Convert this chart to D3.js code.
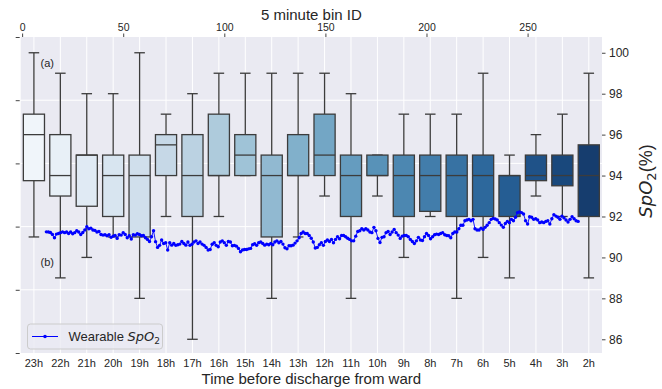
<!DOCTYPE html>
<html><head><meta charset="utf-8">
<script src="https://cdn.jsdelivr.net/npm/d3@7"></script>
<style>body{margin:0;background:#fff}svg{display:block}</style>
</head><body>
<svg id="c" width="662" height="389"></svg>
<script>
// ---------- data ----------
const hours = ["23h","22h","21h","20h","19h","18h","17h","16h","15h","14h","13h","12h","11h","10h","9h","8h","7h","6h","5h","4h","3h","2h"];
const whiskerLow  = [91, 89, 90, 91, 88, 92, 86, 92, 94, 88, 91, 93, 88, 93, 90, 92, 88, 90, 89, 93, 92, 89];
const quartile1   = [93.75, 93, 92.5, 92, 91, 94, 92, 94, 94, 91, 94, 94, 92, 94, 92, 92.25, 92, 92, 92, 93.75, 93.5, 92];
const medians     = [96, 94, 95, 94, 94, 95.5, 94, 94, 95, 94, 94, 95, 94, 94, 94, 94, 94, 94, 94, 94, 94, 94];
const quartile3   = [97, 96, 95, 95, 95, 96, 96, 97, 96, 95, 96, 97, 95, 95, 95, 95, 95, 95, 94, 95, 95, 95.5];
const whiskerHigh = [100, 99, 98, 98, 100, 97, 98, 99, 99, 99, 99, 99, 98, 95, 97, 97, 97, 99, 95, 96, 97, 99];

const binTicks = [0, 50, 100, 150, 200, 250];
const spo2Ticks = [86, 88, 90, 92, 94, 96, 98, 100];
const lineStartBin = 12;
const wearableSpO2 = [
 91.25,91.24,91.22,91.12,90.96,91.14,91.17,91.21,91.25,91.21,91.24,91.17,91.24,91.16,91.21,91.30,91.24,91.12,91.22,91.34,91.50,91.40,91.43,91.34,91.32,91.24,91.27,91.12,91.09,91.11,91.06,91.11,90.98,91.04,91.07,90.93,91.11,91.09,91.21,91.12,90.96,91.06,90.90,91.11,91.09,91.16,91.12,91.06,91.07,90.96,90.88,90.78,
 91.01,91.30,90.77,90.49,90.59,90.85,90.68,90.72,90.36,90.72,90.60,90.68,90.59,90.62,90.65,90.78,90.68,90.60,90.75,90.59,90.64,90.75,90.81,90.68,90.75,90.65,90.59,90.49,90.36,90.39,90.64,90.72,90.59,90.52,90.75,90.81,90.72,90.59,90.78,90.75,90.57,90.59,90.55,90.44,90.28,90.36,90.39,90.39,90.42,90.44,90.62,90.67,90.59,
 90.72,90.75,90.68,90.60,90.65,90.62,90.68,90.62,90.75,90.81,90.72,90.78,90.65,90.47,90.42,90.57,90.57,90.60,90.70,90.81,90.96,91.17,91.24,91.17,91.17,91.07,90.94,90.75,90.46,90.49,90.62,90.72,90.59,90.78,90.85,90.78,90.88,90.72,90.88,91.01,90.91,91.07,91.07,91.01,90.94,90.88,90.81,90.81,91.04,91.27,91.30,91.40,91.34,91.40,
 91.34,91.24,91.21,91.47,91.30,90.93,90.73,90.98,91.01,91.21,91.27,91.12,91.24,91.37,91.21,91.09,90.93,91.04,91.07,91.07,91.01,90.88,90.78,90.68,90.81,90.98,90.85,90.83,91.01,91.17,91.07,90.91,91.01,91.11,91.14,91.12,91.17,91.21,91.11,91.07,91.06,90.96,91.17,91.24,91.24,91.40,91.57,91.57,91.79,91.83,91.86,91.79,91.86,
 91.40,91.34,91.34,91.43,91.37,91.47,91.57,91.70,91.86,91.91,91.88,91.83,91.70,91.58,91.47,91.66,91.76,91.70,91.86,91.79,91.96,92.19,92.22,92.19,92.12,91.79,91.63,91.99,91.96,91.86,91.89,91.83,91.70,91.73,91.70,91.76,91.79,91.63,91.89,92.09,92.02,91.96,91.86,92.02,91.93,91.83,91.73,91.86,91.99,91.89,91.79,91.76
];

// ---------- layout ----------
const L = 20.7, R = 602, T = 37, B = 353;
const FONT = "'Liberation Sans', Arial, sans-serif";
const TXT = "#262626";
const svg = d3.select("#c");

const x = d3.scaleBand().domain(hours).range([L, R]).padding(0);
const xTop = d3.scaleLinear().domain([-0.7, 286.8]).range([L, R]);
const y = d3.scaleLinear().domain([85.33, 100.77]).range([B, T]);
const yLeft = d3.scaleLinear().domain([0, 1]).range([B, T]);

svg.append("rect").attr("x", L).attr("y", T).attr("width", R - L).attr("height", B - T).attr("fill", "#EAEAF2");

// grid
const g = svg.append("g");
g.selectAll("line.h").data(yLeft.ticks(5).filter(v => v > 0 && v < 1)).join("line")
  .attr("x1", L).attr("x2", R).attr("y1", d => yLeft(d)).attr("y2", d => yLeft(d))
  .attr("stroke", "#fff").attr("stroke-width", 1);
g.selectAll("line.v").data(hours).join("line")
  .attr("x1", d => x(d) + x.bandwidth() / 2).attr("x2", d => x(d) + x.bandwidth() / 2)
  .attr("y1", T).attr("y2", B).attr("stroke", "#fff").attr("stroke-width", 1);

// colors (seaborn Blues, desaturated 0.75)
function boxColor(i) {
  const c = d3.hsl(d3.interpolateBlues((i + 1) / (hours.length + 1)));
  c.s *= 0.75;
  return c.formatHex();
}
const EDGE = "#3c3c3c";
const bw = x.bandwidth() * 0.8;

const boxes = svg.append("g").selectAll("g").data(hours).join("g")
  .attr("transform", d => `translate(${x(d) + x.bandwidth() / 2},0)`);
boxes.append("line").attr("x1", 0).attr("x2", 0)
  .attr("y1", (d, i) => y(quartile3[i])).attr("y2", (d, i) => y(whiskerHigh[i]))
  .attr("stroke", EDGE).attr("stroke-width", 1.3);
boxes.append("line").attr("x1", 0).attr("x2", 0)
  .attr("y1", (d, i) => y(quartile1[i])).attr("y2", (d, i) => y(whiskerLow[i]))
  .attr("stroke", EDGE).attr("stroke-width", 1.3);
boxes.append("line").attr("x1", -bw / 4).attr("x2", bw / 4)
  .attr("y1", (d, i) => y(whiskerHigh[i])).attr("y2", (d, i) => y(whiskerHigh[i]))
  .attr("stroke", EDGE).attr("stroke-width", 1.3);
boxes.append("line").attr("x1", -bw / 4).attr("x2", bw / 4)
  .attr("y1", (d, i) => y(whiskerLow[i])).attr("y2", (d, i) => y(whiskerLow[i]))
  .attr("stroke", EDGE).attr("stroke-width", 1.3);
boxes.append("rect").attr("x", -bw / 2).attr("width", bw)
  .attr("y", (d, i) => y(quartile3[i])).attr("height", (d, i) => y(quartile1[i]) - y(quartile3[i]))
  .attr("fill", (d, i) => boxColor(i)).attr("stroke", EDGE).attr("stroke-width", 1.3);
boxes.append("line").attr("x1", -bw / 2).attr("x2", bw / 2)
  .attr("y1", (d, i) => y(medians[i])).attr("y2", (d, i) => y(medians[i]))
  .attr("stroke", EDGE).attr("stroke-width", 1.3);

// wearable line
const lineGen = d3.line().x((d, i) => xTop(lineStartBin + i)).y(d => y(d));
svg.append("path").datum(wearableSpO2).attr("d", lineGen)
  .attr("fill", "none").attr("stroke", "#0000ff").attr("stroke-width", 0.9);
svg.append("g").selectAll("circle").data(wearableSpO2).join("circle")
  .attr("cx", (d, i) => xTop(lineStartBin + i)).attr("cy", d => y(d)).attr("r", 1.7).attr("fill", "#0000ff");

// axes
function styleAxis(sel, size) {
  sel.select(".domain").remove();
  sel.selectAll(".tick line").attr("stroke", "#444");
  sel.selectAll(".tick text").attr("fill", TXT).style("font-family", FONT).style("font-size", size + "px");
}
svg.append("g").attr("transform", `translate(${R},0)`)
  .call(d3.axisRight(y).tickValues(spo2Ticks).tickSize(3.5).tickPadding(3.5))
  .call(s => styleAxis(s, 12));
svg.append("g").attr("transform", `translate(${L - 1},0)`)
  .call(d3.axisLeft(yLeft).ticks(5).tickSize(4).tickFormat(""))
  .call(s => styleAxis(s, 11));
svg.append("g").attr("transform", `translate(0,${T})`)
  .call(d3.axisTop(xTop).tickValues(binTicks).tickSize(3.5).tickPadding(2.5))
  .call(s => styleAxis(s, 10.5));
svg.append("g").attr("transform", `translate(0,${B})`)
  .call(d3.axisBottom(x).tickSize(0).tickPadding(6))
  .call(s => styleAxis(s, 11));

// titles
svg.append("text").attr("x", (L + R) / 2).attr("y", 19.5).attr("text-anchor", "middle")
  .attr("fill", TXT).style("font-family", FONT).style("font-size", "15px").text("5 minute bin ID");
svg.append("text").attr("x", (L + R) / 2).attr("y", 384).attr("text-anchor", "middle")
  .attr("fill", TXT).style("font-family", FONT).style("font-size", "15px").text("Time before discharge from ward");

const yl = svg.append("text").attr("transform", "translate(652,181) rotate(-90)").attr("text-anchor", "middle")
  .attr("fill", TXT).style("font-family", FONT).style("font-size", "18px");
yl.append("tspan").style("font-family", "'DejaVu Sans', sans-serif").style("font-style", "italic").text("SpO");
yl.append("tspan").attr("dy", 4).style("font-size", "13px").style("font-family", "'DejaVu Sans', sans-serif").text("2");
yl.append("tspan").attr("dy", -4).text("(%)");

// annotations
svg.append("text").attr("x", 40.5).attr("y", 66.5).attr("fill", TXT).style("font-family", FONT).style("font-size", "11px").text("(a)");
svg.append("text").attr("x", 40.5).attr("y", 265.5).attr("fill", TXT).style("font-family", FONT).style("font-size", "11px").text("(b)");

// legend
const lg = svg.append("g");
lg.append("rect").attr("x", 27.5).attr("y", 324).attr("width", 135).attr("height", 25).attr("rx", 3)
  .attr("fill", "#EAEAF2").attr("fill-opacity", 0.8).attr("stroke", "#cccccc").attr("stroke-width", 1);
lg.append("line").attr("x1", 32).attr("x2", 58).attr("y1", 336.5).attr("y2", 336.5).attr("stroke", "#0000ff").attr("stroke-width", 1);
lg.append("circle").attr("cx", 45).attr("cy", 336.5).attr("r", 1.8).attr("fill", "#0000ff");
const lt = lg.append("text").attr("x", 68.5).attr("y", 341).attr("fill", TXT).style("font-family", FONT).style("font-size", "13px");
lt.append("tspan").text("Wearable ");
lt.append("tspan").style("font-family", "'DejaVu Sans', sans-serif").style("font-style", "italic").text("SpO");
lt.append("tspan").attr("dy", 3).style("font-size", "9px").style("font-family", "'DejaVu Sans', sans-serif").text("2");
</script>
</body></html>
